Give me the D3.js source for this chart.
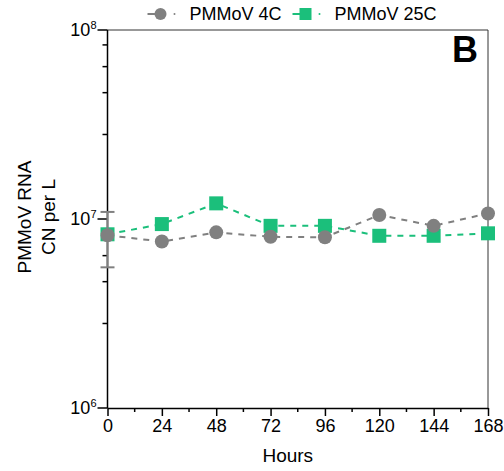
<!DOCTYPE html>
<html lang="en">
<head>
<meta charset="UTF-8">
<title>PMMoV RNA</title>
<script src="https://d3js.org/d3.v7.min.js"></script>
<style>
  body, html { margin: 0; background: #fff; }
  text { font-family: "Liberation Sans", Arial, sans-serif; }
</style>
</head>
<body>
<div id="chart"></div>
<script>
// data
var hours = [0, 24, 48, 72, 96, 120, 144, 168];
var pmmov4C = [8.2e6, 7.6e6, 8.5e6, 8.05e6, 8.0e6, 1.05e7, 9.2e6, 1.07e7];
var pmmov25C = [8.3e6, 9.4e6, 1.21e7, 9.2e6, 9.2e6, 8.15e6, 8.15e6, 8.4e6];
// error bar only visible at hour 0 for 4C
var err4CLow = [5.55e6, null, null, null, null, null, null, null];
var err4CHigh = [1.09e7, null, null, null, null, null, null, null];
var xTicks = [0, 24, 48, 72, 96, 120, 144, 168];
var xMinor = [12, 36, 60, 84, 108, 132, 156];
var yMajor = [1e6, 1e7, 1e8];
var yMinorMult = [2.8, 4.66, 6.4, 8.34];

var W = 504, H = 471;
var margin = {top: 30, right: 16, bottom: 63, left: 107.5};
var width = W - margin.left - margin.right,
    height = H - margin.top - margin.bottom;

var svg = d3.select("#chart").append("svg")
    .attr("width", W).attr("height", H);
var g = svg.append("g")
    .attr("transform", "translate(" + margin.left + "," + margin.top + ")");

var x = d3.scaleLinear().domain([0, 168]).range([0, width]);
var y = d3.scaleLog().domain([1e6, 1e8]).range([height, 0]);

var grey = "#808080", green = "#1bbf7b";

// frame top + right
g.append("line").attr("x1", 0).attr("x2", width).attr("y1", 0).attr("y2", 0)
  .attr("stroke", "#333").attr("stroke-width", 1);
g.append("line").attr("x1", width).attr("x2", width).attr("y1", 0).attr("y2", height)
  .attr("stroke", "#333").attr("stroke-width", 1);

// x axis
var xAxis = g.append("g").attr("transform", "translate(0," + height + ")");
xAxis.call(d3.axisBottom(x).tickValues(xTicks).tickSize(8).tickPadding(3).tickSizeOuter(0));
xMinor.forEach(function(m) {
  xAxis.append("line").attr("x1", x(m)).attr("x2", x(m)).attr("y1", 0).attr("y2", 4)
    .attr("stroke", "#000").attr("stroke-width", 1.5);
});
xAxis.select(".domain").attr("stroke-width", 1.5);
xAxis.selectAll(".tick line").attr("stroke-width", 1.5);
xAxis.selectAll(".tick text").attr("font-size", 18).attr("fill", "#000")
  .style("font-family", "Liberation Sans, Arial, sans-serif");

g.append("text").attr("x", width / 2 - 10).attr("y", height + 54)
  .attr("text-anchor", "middle").attr("font-size", 19).text("Hours");

// y axis
var yAxis = g.append("g");
yAxis.append("line").attr("x1", 0).attr("x2", 0).attr("y1", 0).attr("y2", height)
  .attr("stroke", "#000").attr("stroke-width", 1.5);
yMajor.forEach(function(v) {
  yAxis.append("line").attr("x1", -10).attr("x2", 0).attr("y1", y(v)).attr("y2", y(v))
    .attr("stroke", "#000").attr("stroke-width", 1.5);
  var exp = Math.round(Math.log10(v));
  var t = yAxis.append("text").attr("x", -11).attr("y", y(v) + 6)
    .attr("text-anchor", "end").attr("font-size", 18);
  t.append("tspan").text("10");
  t.append("tspan").attr("font-size", 11).attr("dy", -7).text(exp);
});
[1e6, 1e7].forEach(function(dec) {
  yMinorMult.forEach(function(m) {
    yAxis.append("line").attr("x1", -5).attr("x2", 0)
      .attr("y1", y(dec * m)).attr("y2", y(dec * m))
      .attr("stroke", "#000").attr("stroke-width", 1.5);
  });
});

var yt = g.append("text").attr("transform", "translate(-77," + (height / 2 - 2) + ") rotate(-90)")
  .attr("text-anchor", "middle").attr("font-size", 19);
yt.append("tspan").attr("x", 0).attr("dy", 0).text("PMMoV RNA");
yt.append("tspan").attr("x", 0).attr("dy", 24).text("CN per L");

// series
var d25 = hours.map(function(h, i) { return {h: h, v: pmmov25C[i]}; });
var d4 = hours.map(function(h, i) { return {h: h, v: pmmov4C[i], lo: err4CLow[i], hi: err4CHigh[i]}; });

var line = d3.line().x(function(d){ return x(d.h); }).y(function(d){ return y(d.v); });

g.append("path").datum(d25).attr("d", line).attr("fill", "none")
  .attr("stroke", green).attr("stroke-width", 2).attr("stroke-dasharray", "6,6");
g.selectAll(".sq").data(d25).enter().append("rect")
  .attr("x", function(d){ return x(d.h) - 7; }).attr("y", function(d){ return y(d.v) - 7; })
  .attr("width", 14).attr("height", 14).attr("fill", green);

g.append("path").datum(d4).attr("d", line).attr("fill", "none")
  .attr("stroke", grey).attr("stroke-width", 2).attr("stroke-dasharray", "6,6");
d4.filter(function(d){ return d.lo != null; }).forEach(function(d) {
  var cx = x(d.h);
  g.append("line").attr("x1", cx).attr("x2", cx).attr("y1", y(d.lo)).attr("y2", y(d.hi))
    .attr("stroke", grey).attr("stroke-width", 2);
  [d.lo, d.hi].forEach(function(v) {
    g.append("line").attr("x1", cx - 7).attr("x2", cx + 7).attr("y1", y(v)).attr("y2", y(v))
      .attr("stroke", grey).attr("stroke-width", 2);
  });
});
g.selectAll(".ci").data(d4).enter().append("circle")
  .attr("cx", function(d){ return x(d.h); }).attr("cy", function(d){ return y(d.v); })
  .attr("r", 7).attr("fill", grey);

// panel letter
svg.append("text").attr("x", 465).attr("y", 62).attr("text-anchor", "middle")
  .attr("font-size", 36).attr("font-weight", "bold").text("B");

// legend
var leg = svg.append("g");
var items = [{name: "PMMoV 4C", color: grey, shape: "circle", x: 160.5},
             {name: "PMMoV 25C", color: green, shape: "square", x: 305.5}];
items.forEach(function(it) {
  leg.append("line").attr("x1", it.x - 13).attr("x2", it.x).attr("y1", 14).attr("y2", 14)
    .attr("stroke", it.color).attr("stroke-width", 2);
  leg.append("circle").attr("cx", it.x + 14).attr("cy", 14).attr("r", 1).attr("fill", it.color);
  if (it.shape === "circle") {
    leg.append("circle").attr("cx", it.x).attr("cy", 14).attr("r", 6).attr("fill", it.color);
  } else {
    leg.append("rect").attr("x", it.x - 6).attr("y", 8).attr("width", 12).attr("height", 12)
      .attr("fill", it.color);
  }
  leg.append("text").attr("x", it.x + 29).attr("y", 20).attr("font-size", 18).text(it.name);
});
</script>
</body>
</html>
